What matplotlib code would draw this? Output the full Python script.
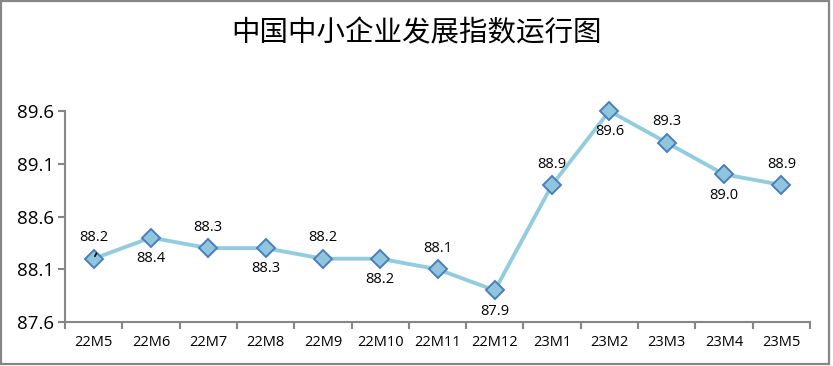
import matplotlib
matplotlib.use("Agg")
import matplotlib.pyplot as plt
from matplotlib.patches import Rectangle

plt.rcParams['font.family'] = ['Liberation Sans', 'DejaVu Sans']

title = "中国中小企业发展指数运行图"
categories = ["22M5", "22M6", "22M7", "22M8", "22M9", "22M10", "22M11", "22M12",
              "23M1", "23M2", "23M3", "23M4", "23M5"]
values = [88.2, 88.4, 88.3, 88.3, 88.2, 88.2, 88.1, 87.9, 88.9, 89.6, 89.3, 89.0, 88.9]
label_above = [True, False, True, False, True, False, True, False, True, False, True, False, True]
yticks = [87.6, 88.1, 88.6, 89.1, 89.6]

W, H = 833, 366
fig = plt.figure(figsize=(W / 100, H / 100), dpi=100)
fig.patch.set_facecolor("white")

# outer border
fig.add_artist(Rectangle((1 / W, 2 / H), 828 / W, 363 / H, transform=fig.transFigure,
                         fill=False, edgecolor="#868686", linewidth=1.6))

ax = fig.add_axes([65 / W, 1 - 322 / H, (810 - 65) / W, (322 - 111) / H])
x = list(range(len(categories)))
ax.plot(x, values, color="#93CDDD", linewidth=2.8, zorder=2, clip_on=False)
ax.plot(x, values, linestyle="none", marker="D", markersize=9,
        markerfacecolor="#8FC6DE", markeredgecolor="#4A7EBB", markeredgewidth=1.4,
        zorder=3, clip_on=False)

for xi, v, up in zip(x, values, label_above):
    off = 15 if up else -15
    ax.annotate(f"{v:.1f}", (xi, v), xytext=(0, off), textcoords="offset points",
                ha="center", va="center", fontsize=10.5, color="black",
                family=["Open Sans", "DejaVu Sans"])

# small leader line on first label
ax.annotate("", xy=(0, values[0]), xytext=(0.07, values[0] + 0.075),
            arrowprops=dict(arrowstyle="-", color="black", lw=1.2))

ax.set_xlim(-0.5, len(categories) - 0.5)
ax.set_ylim(87.6, 89.6)
ax.set_yticks(yticks)
ax.set_yticklabels([f"{t:.1f}" for t in yticks], fontsize=13.5,
                   family=["Open Sans", "DejaVu Sans"])
ax.set_xticks(x)
ax.set_xticklabels(categories, fontsize=10.5, family=["Open Sans", "DejaVu Sans"])
ax.tick_params(axis="x", length=0, pad=9)
ax.set_xticks([i - 0.5 for i in range(len(categories) + 1)], minor=True)
ax.tick_params(axis="x", which="minor", length=5, width=1.5, color="#868686", direction="out")
ax.tick_params(axis="y", length=5, width=1.5, color="#868686", direction="out", pad=3)

for s in ["top", "right"]:
    ax.spines[s].set_visible(False)
for s in ["left", "bottom"]:
    ax.spines[s].set_color("#868686")
    ax.spines[s].set_linewidth(1.5)

fig.text(417 / W, 1 - 33 / H, title, ha="center", va="center", fontsize=20.5,
         fontweight="normal", color="black", family=["Noto Sans CJK SC", "DejaVu Sans"])

fig.savefig("out.png", dpi=100)
